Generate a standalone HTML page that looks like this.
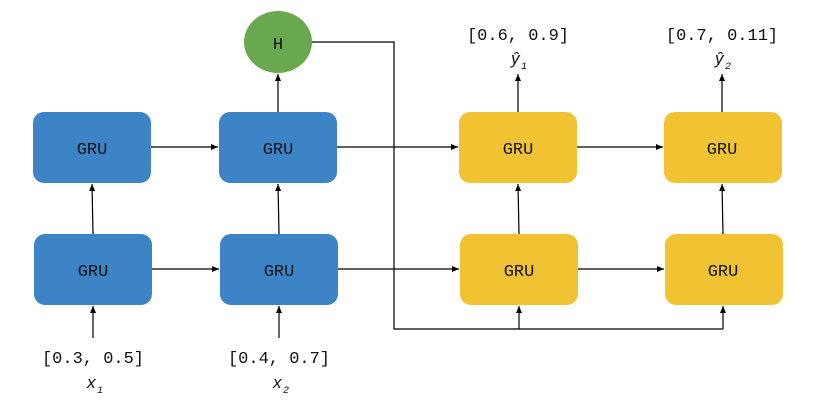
<!DOCTYPE html>
<html><head><meta charset="utf-8"><style>
html,body{margin:0;padding:0;background:#fff;}
svg text{font-family:"Liberation Mono","DejaVu Sans Mono",monospace;}
</style></head><body>
<svg width="815" height="409" xmlns="http://www.w3.org/2000/svg">
<defs><marker id="a" markerWidth="8" markerHeight="8" refX="7" refY="4" orient="auto" markerUnits="userSpaceOnUse"><path d="M0,1 L7,4 L0,7 Z" fill="#000"/></marker></defs>
<g stroke="#000" stroke-width="1.2" fill="none">
<line x1="151" y1="147" x2="218" y2="147" marker-end="url(#a)"/>
<line x1="152" y1="269" x2="219" y2="269" marker-end="url(#a)"/>
<line x1="93" y1="234" x2="92" y2="184" marker-end="url(#a)"/>
<line x1="279" y1="234" x2="278" y2="184" marker-end="url(#a)"/>
<line x1="278" y1="112" x2="278" y2="74" marker-end="url(#a)"/>
<line x1="93" y1="338" x2="93" y2="306" marker-end="url(#a)"/>
<line x1="279" y1="338" x2="279" y2="306" marker-end="url(#a)"/>
<line x1="337" y1="147" x2="458" y2="147" marker-end="url(#a)"/>
<line x1="338" y1="269" x2="459" y2="269" marker-end="url(#a)"/>
<polyline points="312,42 394,42 394,329 723,329"/>
<line x1="519" y1="329" x2="519" y2="306" marker-end="url(#a)"/>
<line x1="723" y1="329" x2="723" y2="306" marker-end="url(#a)"/>
<line x1="519" y1="234" x2="518" y2="184" marker-end="url(#a)"/>
<line x1="723" y1="234" x2="722" y2="184" marker-end="url(#a)"/>
<line x1="577" y1="147" x2="663" y2="147" marker-end="url(#a)"/>
<line x1="578" y1="269" x2="664" y2="269" marker-end="url(#a)"/>
<line x1="518" y1="112" x2="518" y2="74" marker-end="url(#a)"/>
<line x1="722" y1="112" x2="722" y2="74" marker-end="url(#a)"/>
</g>
<g fill="#3d84c6">
<rect x="33" y="112" width="118" height="71" rx="11"/>
<rect x="219" y="112" width="118" height="71" rx="11"/>
<rect x="34" y="234" width="118" height="71" rx="11"/>
<rect x="220" y="234" width="118" height="71" rx="11"/>
</g>
<g fill="#f1c332">
<rect x="459" y="112" width="118" height="71" rx="11"/>
<rect x="664" y="112" width="118" height="71" rx="11"/>
<rect x="460" y="234" width="118" height="71" rx="11"/>
<rect x="665" y="234" width="118" height="71" rx="11"/>
</g>
<ellipse cx="278" cy="42" rx="34" ry="31" fill="#6aa84f"/>
<g font-size="17" text-anchor="middle" fill="#111">
<text x="92" y="154">GRU</text><text x="278" y="154">GRU</text>
<text x="93" y="276">GRU</text><text x="279" y="276">GRU</text>
<text x="518" y="154">GRU</text><text x="722" y="154">GRU</text>
<text x="519" y="276">GRU</text><text x="723" y="276">GRU</text>
<text x="278" y="49">H</text>
<text x="93" y="363" font-size="17">[0.3, 0.5]</text>
<text x="279" y="363" font-size="17">[0.4, 0.7]</text>
<text x="518" y="40" font-size="17">[0.6, 0.9]</text>
<text x="722" y="40" font-size="17">[0.7, 0.11]</text>
</g>
<g font-size="17" font-style="italic" fill="#111" font-family="Liberation Sans,sans-serif">
<text x="87" y="388" style="font-family:'Liberation Sans',sans-serif">x</text><text x="97" y="393" font-size="10">1</text>
<text x="273" y="388" style="font-family:'Liberation Sans',sans-serif">x</text><text x="283" y="393" font-size="10">2</text>
<text x="511" y="64" style="font-family:'Liberation Sans',sans-serif">ŷ</text><text x="521" y="69" font-size="10">1</text>
<text x="715" y="64" style="font-family:'Liberation Sans',sans-serif">ŷ</text><text x="725" y="69" font-size="10">2</text>
</g>
</svg>
</body></html>
